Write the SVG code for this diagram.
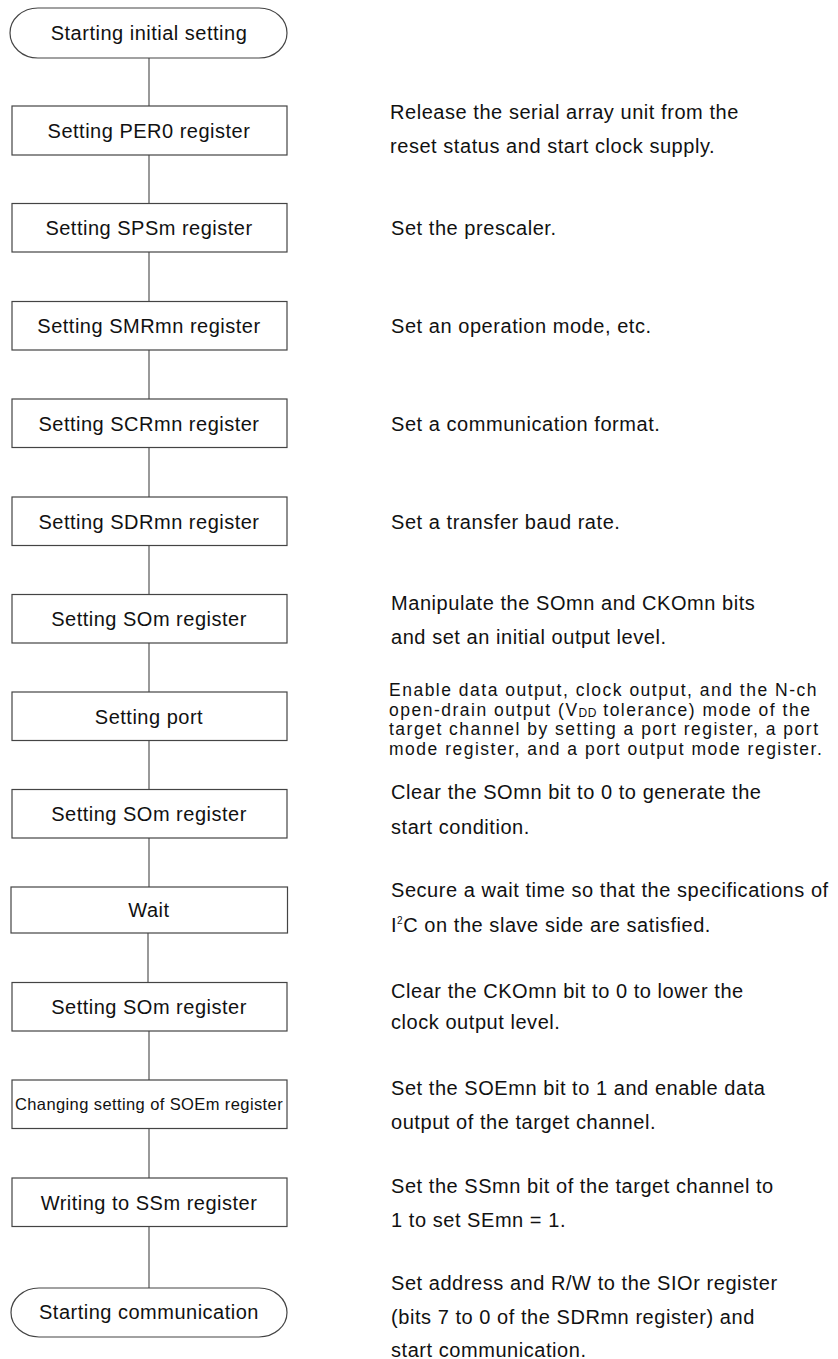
<svg xmlns="http://www.w3.org/2000/svg" width="838" height="1359" viewBox="0 0 838 1359">
<style>
.box{fill:#fff;stroke:#444;stroke-width:1.2}
.term{fill:#fff;stroke:#444;stroke-width:1.2}
.lbl{font-family:"Liberation Sans",Arial,sans-serif;font-size:20px;letter-spacing:0.5px;fill:#111;text-anchor:middle}
.sm{font-size:16.5px;letter-spacing:0.4px}
.note{font-family:"Liberation Sans",Arial,sans-serif;font-size:20px;letter-spacing:0.55px;fill:#111}
.tight{font-size:17.5px;letter-spacing:1.5px}
.conn line{stroke:#555;stroke-width:1.2}
</style>
<rect width="838" height="1359" fill="#fff"/>
<g class="conn" id="connectors">
<line x1="149" y1="58" x2="149" y2="106"/>
<line x1="149" y1="155" x2="149" y2="203.5"/>
<line x1="149" y1="252" x2="149" y2="301.5"/>
<line x1="149" y1="350" x2="149" y2="399"/>
<line x1="149" y1="447.5" x2="149" y2="497"/>
<line x1="149" y1="545.5" x2="149" y2="594.5"/>
<line x1="149" y1="643" x2="149" y2="692"/>
<line x1="149" y1="740.5" x2="149" y2="789.5"/>
<line x1="149" y1="838" x2="149" y2="887"/>
<line x1="148" y1="933" x2="148" y2="982.5"/>
<line x1="149" y1="1031" x2="149" y2="1080"/>
<line x1="149" y1="1128.5" x2="149" y2="1178"/>
<line x1="149" y1="1226.5" x2="149" y2="1288"/>
</g>
<g id="n0">
<path class="term" d="M38,8 H259 A28,25 0 0 1 259,58 H38 A28,25 0 0 1 38,8 Z"/>
<text class="lbl" x="149" y="40">Starting initial setting</text>
</g>
<g id="n1"><rect class="box" x="12" y="106" width="275" height="49"/><text class="lbl" x="149" y="137.5">Setting PER0 register</text></g>
<g id="n2"><rect class="box" x="12" y="203.5" width="275" height="48.5"/><text class="lbl" x="149" y="235">Setting SPSm register</text></g>
<g id="n3"><rect class="box" x="12" y="301.5" width="275" height="48.5"/><text class="lbl" x="149" y="333">Setting SMRmn register</text></g>
<g id="n4"><rect class="box" x="12" y="399" width="275" height="48.5"/><text class="lbl" x="149" y="430.5">Setting SCRmn register</text></g>
<g id="n5"><rect class="box" x="12" y="497" width="275" height="48.5"/><text class="lbl" x="149" y="528.5">Setting SDRmn register</text></g>
<g id="n6"><rect class="box" x="12" y="594.5" width="275" height="48.5"/><text class="lbl" x="149" y="626">Setting SOm register</text></g>
<g id="n7"><rect class="box" x="12" y="692" width="275" height="48.5"/><text class="lbl" x="149" y="723.5">Setting port</text></g>
<g id="n8"><rect class="box" x="12" y="789.5" width="275" height="48.5"/><text class="lbl" x="149" y="821">Setting SOm register</text></g>
<g id="n9"><rect class="box" x="11" y="887" width="276.5" height="46"/><text class="lbl" x="149" y="917">Wait</text></g>
<g id="n10"><rect class="box" x="12" y="982.5" width="275" height="48.5"/><text class="lbl" x="149" y="1014">Setting SOm register</text></g>
<g id="n11"><rect class="box" x="12" y="1080" width="275" height="48.5"/><text class="lbl sm" x="149" y="1110">Changing setting of SOEm register</text></g>
<g id="n12"><rect class="box" x="12" y="1178" width="275" height="48.5"/><text class="lbl" x="149" y="1209.5">Writing to SSm register</text></g>
<g id="n13">
<path class="term" d="M39,1288 H259 A28,24.5 0 0 1 259,1337 H39 A28,24.5 0 0 1 39,1288 Z"/>
<text class="lbl" x="149" y="1319">Starting communication</text>
</g>
<g id="notes">
<text class="note" x="390" y="119">Release the serial array unit from the</text>
<text class="note" x="390" y="153">reset status and start clock supply.</text>
<text class="note" x="391" y="235">Set the prescaler.</text>
<text class="note" x="391" y="333">Set an operation mode, etc.</text>
<text class="note" x="391" y="431">Set a communication format.</text>
<text class="note" x="391" y="529">Set a transfer baud rate.</text>
<text class="note" x="391" y="610">Manipulate the SOmn and CKOmn bits</text>
<text class="note" x="391" y="644">and set an initial output level.</text>
<text class="note tight" x="389" y="696">Enable data output, clock output, and the N-ch</text>
<text class="note tight" x="389" y="715.5">open-drain output (V<tspan font-size="12" letter-spacing="0.5" dy="1">DD</tspan><tspan dy="-1"> tolerance) mode of the</tspan></text>
<text class="note tight" x="389" y="735">target channel by setting a port register, a port</text>
<text class="note tight" x="389" y="754.5">mode register, and a port output mode register.</text>
<text class="note" x="391" y="799">Clear the SOmn bit to 0 to generate the</text>
<text class="note" x="391" y="834">start condition.</text>
<text class="note" x="391" y="897">Secure a wait time so that the specifications of</text>
<text class="note" x="391" y="932">I<tspan font-size="10" dy="-8">2</tspan><tspan dy="8">C on the slave side are satisfied.</tspan></text>
<text class="note" x="391" y="998">Clear the CKOmn bit to 0 to lower the</text>
<text class="note" x="391" y="1029">clock output level.</text>
<text class="note" x="391" y="1095">Set the SOEmn bit to 1 and enable data</text>
<text class="note" x="391" y="1129">output of the target channel.</text>
<text class="note" x="391" y="1193">Set the SSmn bit of the target channel to</text>
<text class="note" x="391" y="1227">1 to set SEmn = 1.</text>
<text class="note" x="391" y="1290">Set address and R/W to the SIOr register</text>
<text class="note" x="391" y="1324">(bits 7 to 0 of the SDRmn register) and</text>
<text class="note" x="391" y="1357">start communication.</text>
</g>
</svg>
